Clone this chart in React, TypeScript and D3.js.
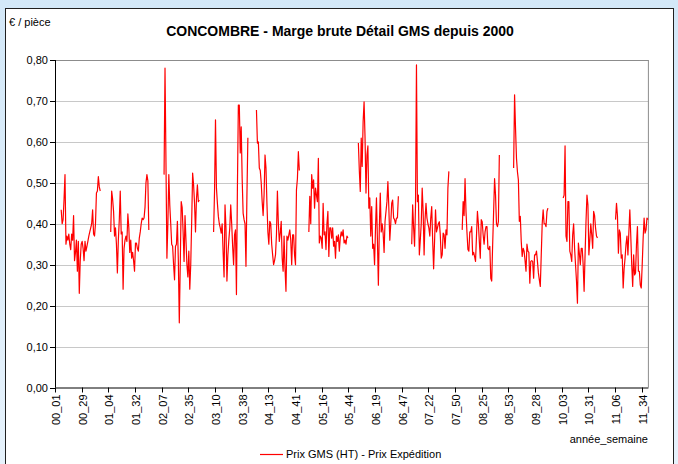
import React from "react";
import * as d3 from "d3";

const YEARS = ["00", "01", "02", "03", "04", "05", "06", "07", "08", "09", "10", "11"];
const WEEKS_PER_YEAR = [53, 53, 53, 53, 53, 53, 53, 53, 53, 53, 53, 40];
const Y_TICKS = [0, 0.1, 0.2, 0.3, 0.4, 0.5, 0.6, 0.7, 0.8];
const LABEL_EVERY = 28;
const TITLE = "CONCOMBRE - Marge brute Détail GMS depuis 2000";
const Y_UNIT = "€ / pièce";
const X_TITLE = "année_semaine";
const SERIES_NAME = "Prix GMS (HT) - Prix Expédition";

// first week of each continuous run of data
const RUN_STARTS = ["00_07", "01_06", "02_09", "03_08", "03_53", "05_02", "06_01", "07_04", "08_04", "09_05", "10_04", "11_06"];

const RUN_00 = [0.434, 0.40, 0.41, 0.46, 0.52, 0.35, 0.37, 0.36, 0.375, 0.35, 0.337, 0.375, 0.36, 0.42, 0.31, 0.33, 0.36, 0.284, 0.357, 0.23, 0.31, 0.35, 0.357, 0.34, 0.31, 0.357, 0.333, 0.345, 0.357, 0.37, 0.38, 0.39, 0.40, 0.434, 0.375, 0.37, 0.40, 0.475, 0.48, 0.515, 0.49, 0.48];
const RUN_01 = [0.38, 0.48, 0.46, 0.43, 0.37, 0.39, 0.35, 0.28, 0.36, 0.41, 0.48, 0.375, 0.38, 0.24, 0.34, 0.36, 0.37, 0.357, 0.424, 0.39, 0.33, 0.36, 0.316, 0.33, 0.31, 0.284, 0.353, 0.353, 0.34, 0.333, 0.365, 0.38, 0.40, 0.414, 0.41, 0.414, 0.44, 0.50, 0.52, 0.505, 0.385];
const RUN_02 = [0.52, 0.78, 0.55, 0.316, 0.40, 0.52, 0.446, 0.40, 0.35, 0.345, 0.30, 0.263, 0.345, 0.35, 0.406, 0.308, 0.158, 0.30, 0.454, 0.44, 0.38, 0.308, 0.42, 0.36, 0.30, 0.27, 0.333, 0.24, 0.30, 0.406, 0.524, 0.495, 0.45, 0.38, 0.46, 0.495, 0.454, 0.458];
const RUN_03A = [0.38, 0.48, 0.654, 0.487, 0.45, 0.418, 0.40, 0.39, 0.377, 0.40, 0.33, 0.27, 0.446, 0.39, 0.26, 0.324, 0.36, 0.39, 0.446, 0.40, 0.345, 0.30, 0.373, 0.385, 0.227, 0.487, 0.69, 0.69, 0.573, 0.637, 0.51, 0.426, 0.41, 0.40, 0.296, 0.47, 0.61];
const RUN_03B = [0.678, 0.597, 0.60, 0.536, 0.53, 0.50, 0.454, 0.42, 0.47, 0.568, 0.536, 0.45, 0.38, 0.35, 0.406, 0.40, 0.35, 0.324, 0.30, 0.31, 0.324, 0.373, 0.48, 0.40, 0.357, 0.377, 0.406, 0.316, 0.284, 0.37, 0.29, 0.235, 0.37, 0.36, 0.373, 0.385, 0.36, 0.30, 0.373, 0.373, 0.324, 0.30, 0.483, 0.51, 0.576, 0.53];
const RUN_05 = [0.38, 0.467, 0.40, 0.52, 0.487, 0.507, 0.438, 0.487, 0.47, 0.454, 0.56, 0.353, 0.37, 0.365, 0.34, 0.45, 0.373, 0.38, 0.337, 0.40, 0.43, 0.32, 0.39, 0.39, 0.365, 0.39, 0.345, 0.357, 0.316, 0.37, 0.357, 0.373, 0.333, 0.365, 0.38, 0.37, 0.385, 0.353, 0.36, 0.35, 0.37, 0.365];
const RUN_06 = [0.597, 0.53, 0.479, 0.609, 0.54, 0.65, 0.698, 0.61, 0.475, 0.568, 0.59, 0.438, 0.463, 0.37, 0.442, 0.34, 0.35, 0.30, 0.39, 0.463, 0.36, 0.25, 0.39, 0.475, 0.38, 0.40, 0.377, 0.33, 0.406, 0.43, 0.454, 0.503, 0.438, 0.36, 0.40, 0.45, 0.458, 0.414, 0.41, 0.40, 0.414, 0.414, 0.467];
const RUN_07 = [0.35, 0.446, 0.39, 0.345, 0.446, 0.788, 0.454, 0.47, 0.324, 0.36, 0.40, 0.487, 0.43, 0.324, 0.41, 0.45, 0.414, 0.40, 0.39, 0.37, 0.414, 0.442, 0.36, 0.29, 0.357, 0.434, 0.38, 0.39, 0.40, 0.405, 0.373, 0.316, 0.324, 0.377, 0.373, 0.34, 0.385, 0.373, 0.487, 0.528];
const RUN_08 = [0.385, 0.454, 0.42, 0.51, 0.43, 0.38, 0.337, 0.333, 0.38, 0.38, 0.393, 0.324, 0.33, 0.32, 0.308, 0.37, 0.43, 0.40, 0.357, 0.316, 0.41, 0.405, 0.373, 0.35, 0.38, 0.393, 0.393, 0.34, 0.337, 0.345, 0.267, 0.26, 0.35, 0.43, 0.51, 0.47, 0.40, 0.393, 0.405, 0.568];
const RUN_09 = [0.536, 0.715, 0.633, 0.56, 0.527, 0.507, 0.406, 0.418, 0.357, 0.32, 0.34, 0.333, 0.31, 0.284, 0.35, 0.333, 0.33, 0.255, 0.308, 0.31, 0.308, 0.267, 0.324, 0.324, 0.333, 0.308, 0.28, 0.263, 0.247, 0.324, 0.40, 0.434, 0.40, 0.40, 0.393, 0.43, 0.438];
const RUN_10 = [0.463, 0.47, 0.59, 0.37, 0.357, 0.454, 0.454, 0.333, 0.324, 0.308, 0.373, 0.40, 0.34, 0.30, 0.26, 0.206, 0.353, 0.328, 0.30, 0.34, 0.34, 0.30, 0.235, 0.324, 0.406, 0.47, 0.446, 0.324, 0.36, 0.40, 0.373, 0.34, 0.43, 0.42, 0.39, 0.37, 0.365];
const RUN_11 = [0.41, 0.45, 0.42, 0.328, 0.385, 0.377, 0.316, 0.324, 0.243, 0.29, 0.316, 0.35, 0.37, 0.324, 0.38, 0.434, 0.37, 0.30, 0.247, 0.324, 0.275, 0.28, 0.35, 0.393, 0.284, 0.284, 0.25, 0.243, 0.30, 0.365, 0.414, 0.377, 0.385, 0.414, 0.41];

const RUN_VALUES = [RUN_00, RUN_01, RUN_02, RUN_03A, RUN_03B, RUN_05, RUN_06, RUN_07, RUN_08, RUN_09, RUN_10, RUN_11];

const FONT = "'Liberation Sans', Arial, Helvetica, sans-serif";

export default function App() {
  const W = 678;
  const H = 464;
  const plot = { left: 55, right: 648.4, top: 60, bottom: 387.5 };

  const categories: string[] = YEARS.flatMap((yy, k) =>
    d3.range(1, WEEKS_PER_YEAR[k] + 1).map((w) => `${yy}_${String(w).padStart(2, "0")}`)
  );
  const values: (number | null)[] = new Array(categories.length).fill(null);
  RUN_STARTS.forEach((s, r) => {
    const i0 = categories.indexOf(s);
    RUN_VALUES[r].forEach((v, j) => {
      if (i0 + j < values.length) values[i0 + j] = v;
    });
  });

  const x = d3.scaleBand<string>().domain(categories).range([plot.left, plot.right]).padding(0);
  const bw = x.bandwidth();
  const y = d3.scaleLinear().domain([0, 0.8]).range([plot.bottom, plot.top]);

  const lineGen = d3
    .line<number | null>()
    .defined((v) => v != null)
    .x((_, i) => (x(categories[i]) as number) + bw / 2)
    .y((v) => y(v as number));
  const path = lineGen(values) || "";

  const labelCats = categories.filter((_, i) => i % LABEL_EVERY === 0);
  const fmt = (v: number) => d3.format(".2f")(v).replace(".", ",");

  return (
    <svg
      width={W}
      height={H}
      style={{ position: "absolute", left: 0, top: 0, display: "block" }}
      fontFamily={FONT}
    >
      <defs>
        <linearGradient id="bg" x1="0" y1="0" x2="0" y2="1">
          <stop offset="0" stopColor="#d3e8f8" />
          <stop offset="1" stopColor="#e6f2fc" />
        </linearGradient>
      </defs>
      <rect x={0} y={0} width={W} height={H} fill="url(#bg)" />
      <rect x={5.5} y={8.5} width={668} height={470} fill="#ffffff" stroke="#202020" strokeWidth={1} />

      <text x={9} y={26} fontSize={11} fill="#000">{Y_UNIT}</text>
      <text x={340} y={35.5} fontSize={14} fontWeight="bold" textAnchor="middle" fill="#000">
        {TITLE}
      </text>

      {/* gridlines */}
      {Y_TICKS.filter((t) => t > 0 && t < 0.8).map((t) => (
        <line
          key={`g${t}`}
          x1={plot.left}
          x2={plot.right}
          y1={Math.round(y(t)) + 0.5}
          y2={Math.round(y(t)) + 0.5}
          stroke="#c8c8c8"
          strokeWidth={1.2}
        />
      ))}
      {/* plot border top/right */}
      <line x1={plot.left} x2={plot.right} y1={plot.top + 0.5} y2={plot.top + 0.5} stroke="#8c8c8c" strokeWidth={1} />
      <line x1={plot.right} x2={plot.right} y1={plot.top} y2={plot.bottom} stroke="#8c8c8c" strokeWidth={1} />

      {/* y axis */}
      <line x1={plot.left + 0.5} x2={plot.left + 0.5} y1={plot.top} y2={plot.bottom} stroke="#000" strokeWidth={1} />
      {Y_TICKS.map((t) => (
        <g key={`yt${t}`}>
          <line x1={plot.left - 5} x2={plot.left} y1={Math.round(y(t)) + 0.5} y2={Math.round(y(t)) + 0.5} stroke="#000" />
          <text x={plot.left - 7} y={y(t) + 4} fontSize={11} textAnchor="end" fill="#000">
            {fmt(t)}
          </text>
        </g>
      ))}

      {/* x axis */}
      <line x1={plot.left} x2={plot.right} y1={plot.bottom + 0.5} y2={plot.bottom + 0.5} stroke="#000" strokeWidth={1} />
      {labelCats.map((c) => {
        const xp = Math.round(x(c) as number) + 0.5;
        return (
          <g key={`xt${c}`}>
            <line x1={xp} x2={xp} y1={plot.bottom} y2={plot.bottom + 5} stroke="#000" />
            <text
              transform={`translate(${xp + 4},${plot.bottom + 7}) rotate(-90)`}
              fontSize={11}
              textAnchor="end"
              fill="#000"
            >
              {c}
            </text>
          </g>
        );
      })}
      <text x={648} y={443} fontSize={11} textAnchor="end" fill="#000">{X_TITLE}</text>

      {/* series */}
      <path d={path} fill="none" stroke="#ff0000" strokeWidth={1.2} strokeLinejoin="round" />

      {/* legend */}
      <line x1={260} x2={283} y1={454.5} y2={454.5} stroke="#ff0000" strokeWidth={1.2} />
      <text x={286} y={458} fontSize={11} fill="#000">{SERIES_NAME}</text>
    </svg>
  );
}
